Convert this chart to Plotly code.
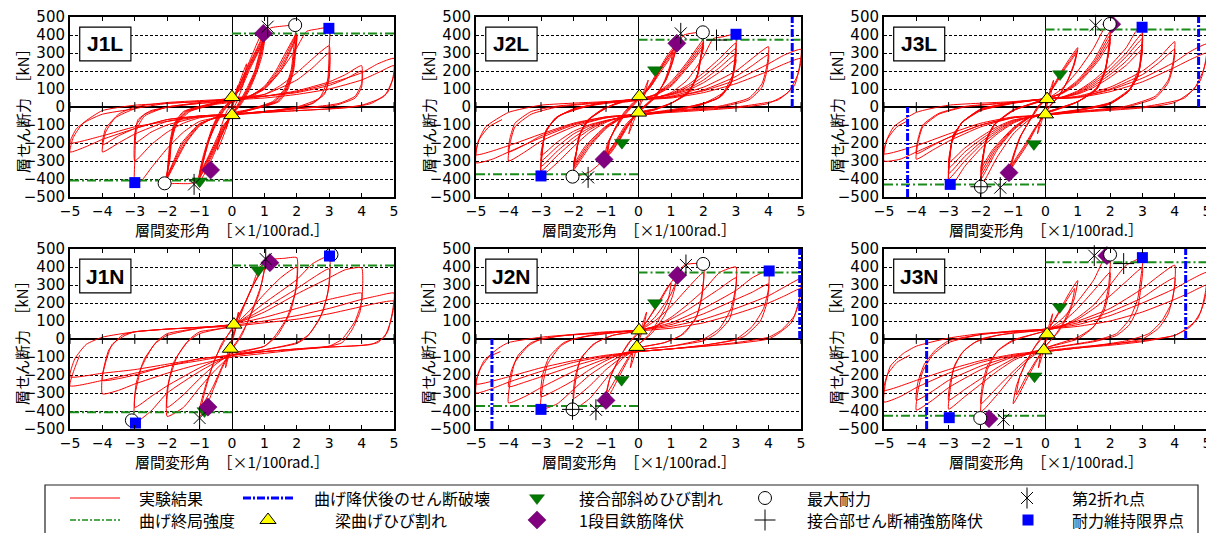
import plotly.graph_objects as go

W, H = 1214, 533          # browser window
OFF = 8                   # default page (body) margin of the written html
FW, FH = W - OFF, H - OFF  # figure size so that it fills the window exactly

X_TICKS = [-5, -4, -3, -2, -1, 0, 1, 2, 3, 4, 5]
Y_TICKS = [-500, -400, -300, -200, -100, 0, 100, 200, 300, 400, 500]
PANEL_NAMES = ["J1L", "J2L", "J3L", "J1N", "J2N", "J3N"]

# ---------------- hysteresis loops (x: 1/100 rad, y: kN) ----------------
J1L_LOOPS = [
    [(0,0),(0.08,60),(0.18,120),(0.1,50),(0,-10),(-0.08,-60),(-0.18,-120),(-0.1,-50),(0,0)],
    [(0,10),(0.2,120),(0.45,240),(0.35,130),(0.15,30),(0,-25),(-0.2,-130),(-0.45,-240),(-0.35,-120),(-0.15,-20),(0,10)],
    [(0,30),(0.2,110),(0.45,210),(0.7,300),(1.0,410),(0.85,300),(0.7,200),(0.45,100),(0.2,20),(0,-35),(-0.2,-110),(-0.45,-210),(-0.7,-300),(-1.05,-405),(-0.9,-300),(-0.75,-200),(-0.5,-100),(-0.25,-20),(0,30)],
    [(0,35),(0.22,110),(0.48,210),(0.72,300),(1.0,395),(0.87,300),(0.72,200),(0.48,100),(0.22,20),(0,-38),(-0.22,-110),(-0.48,-210),(-0.73,-300),(-1.0,-395),(-0.88,-300),(-0.74,-200),(-0.52,-100),(-0.27,-20),(0,35)],
    [(0,40),(0.25,110),(0.5,210),(0.75,300),(1.0,385),(0.88,290),(0.74,200),(0.5,100),(0.25,20),(0,-40),(-0.25,-110),(-0.5,-210),(-0.76,-300),(-1.0,-385),(-0.87,-290),(-0.73,-200),(-0.54,-100),(-0.3,-20),(0,40)],
    [(0,42),(0.27,110),(0.52,210),(0.78,300),(1.0,375),(0.9,290),(0.76,200),(0.52,100),(0.27,20),(0,-42),(-0.27,-110),(-0.53,-210),(-0.78,-300),(-1.0,-375),(-0.89,-290),(-0.75,-200),(-0.56,-100),(-0.32,-20),(0,42)],
    [(0,45),(0.3,110),(0.55,210),(0.8,300),(1.0,365),(0.92,280),(0.78,200),(0.55,100),(0.3,20),(0,-45),(-0.3,-110),(-0.56,-210),(-0.8,-300),(-1.0,-365),(-0.9,-280),(-0.77,-200),(-0.58,-100),(-0.35,-20),(0,45)],
    [(0,30),(0.3,150),(0.6,280),(0.9,400),(1.2,440),(1.6,450),(1.95,452),(1.9,320),(1.82,200),(1.62,100),(1.25,30),(0.5,-15),(0,-35),(-0.3,-150),(-0.6,-280),(-0.95,-400),(-1.3,-425),(-1.7,-425),(-2.05,-422),(-1.92,-300),(-1.87,-200),(-1.72,-100),(-1.3,-25),(-0.5,15),(0,30)],
    [(0,35),(0.5,55),(1.0,115),(1.35,200),(1.65,300),(2.0,410),(1.92,300),(1.84,200),(1.65,100),(1.3,30),(0.5,-15),(0,-38),(-0.5,-55),(-1.0,-105),(-1.42,-200),(-1.72,-300),(-2.0,-395),(-1.93,-300),(-1.88,-200),(-1.74,-100),(-1.35,-25),(-0.5,18),(0,35)],
    [(0,38),(0.5,55),(1.0,110),(1.4,200),(1.7,300),(2.0,405),(1.93,300),(1.86,200),(1.68,100),(1.35,30),(0.5,-18),(0,-40),(-0.5,-58),(-1.0,-100),(-1.45,-200),(-1.75,-300),(-2.0,-390),(-1.94,-290),(-1.89,-200),(-1.76,-100),(-1.4,-25),(-0.5,20),(0,38)],
    [(0,40),(0.5,58),(1.0,105),(1.45,200),(1.75,300),(2.0,395),(1.94,290),(1.88,200),(1.7,100),(1.4,30),(0.5,-20),(0,-42),(-0.5,-60),(-1.0,-95),(-1.5,-200),(-1.78,-300),(-2.0,-385),(-1.95,-290),(-1.9,-200),(-1.78,-100),(-1.45,-25),(-0.5,22),(0,40)],
    [(0,42),(0.5,60),(1.0,100),(1.5,200),(1.78,300),(2.0,385),(1.95,280),(1.9,200),(1.73,100),(1.45,30),(0.5,-20),(0,-45),(-0.5,-62),(-1.0,-92),(-1.55,-200),(-1.8,-300),(-2.0,-380),(-1.96,-280),(-1.92,-200),(-1.8,-100),(-1.5,-25),(-0.5,25),(0,42)],
    [(0,30),(0.5,50),(1.0,100),(1.5,200),(2.0,330),(2.3,420),(2.6,432),(3.0,440),(3.0,330),(2.95,150),(2.7,50),(2.0,0),(1.0,-25),(0,-45),(-1.0,-80),(-1.5,-140),(-2.0,-230),(-2.5,-340),(-2.8,-410),(-3.0,-420),(-3.0,-300),(-2.95,-130),(-2.7,-50),(-2.0,0),(-1.0,20),(0,30)],
    [(0,40),(1.0,70),(1.5,120),(2.0,190),(2.5,270),(3.0,340),(3.0,200),(2.9,90),(2.5,20),(1.5,-15),(0,-40),(-1.0,-60),(-1.5,-90),(-2.0,-140),(-2.5,-210),(-3.0,-300),(-3.0,-160),(-2.9,-70),(-2.5,-20),(-1.5,10),(0,40)],
    [(0,50),(1.0,70),(2.0,150),(2.5,220),(3.0,300),(3.0,160),(2.85,70),(2.4,15),(1.5,-20),(0,-45),(-1.0,-55),(-2.0,-100),(-2.5,-140),(-3.0,-200),(-2.95,-100),(-2.7,-40),(-2.0,0),(-1.0,25),(0,50)],
    [(0,40),(1.0,60),(2.0,90),(3.0,140),(3.5,180),(4.0,230),(4.0,130),(3.8,60),(3.3,20),(2.5,0),(1.0,-25),(0,-40),(-1.0,-50),(-2.0,-80),(-3.0,-150),(-3.5,-200),(-4.0,-250),(-3.9,-140),(-3.6,-60),(-3.0,-10),(-2.0,20),(-1.0,30),(0,40)],
    [(0,45),(1.0,60),(2.0,80),(3.0,120),(3.5,155),(4.0,200),(4.0,110),(3.8,50),(3.2,10),(2.0,-10),(0,-40),(-1.0,-50),(-2.0,-70),(-3.0,-120),(-3.5,-160),(-4.0,-210),(-3.9,-120),(-3.5,-40),(-3.0,0),(-2.0,25),(0,45)],
    [(0,45),(1.0,60),(2.0,85),(3.0,130),(4.0,190),(4.5,240),(5.0,270),(5.0,180),(4.8,80),(4.3,20),(3.5,-5),(2.0,-20),(0,-40),(-1.0,-50),(-2.0,-70),(-3.0,-120),(-4.0,-180),(-4.5,-220),(-5.0,-250),(-4.9,-170),(-4.6,-90),(-4.0,-20),(-3.0,10),(-2.0,20),(0,40)],
    [(0,40),(1.0,50),(2.0,70),(3.0,100),(4.0,150),(4.5,190),(5.0,230),(4.95,150),(4.7,60),(4.0,10),(3.0,-10),(1.0,-30),(0,-40),(-1.0,-55),(-2.0,-80),(-3.0,-110),(-4.0,-160),(-5.0,-200),(-4.8,-120),(-4.5,-80),(-4.0,-40),(-3.0,-10)],
]

J2L_LOOPS = [
    [(0,0),(0.15,80),(0.3,150),(0.18,60),(0,-10),(-0.15,-80),(-0.3,-150),(-0.18,-60),(0,0)],
    [(0,40),(0.3,110),(0.6,200),(0.9,290),(1.2,355),(1.05,250),(0.85,150),(0.5,60),(0.2,10),(0,-25),(-0.3,-100),(-0.6,-190),(-0.85,-255),(-1.05,-290),(-0.95,-200),(-0.7,-120),(-0.4,-40),(-0.1,20),(0,40)],
    [(0,42),(0.32,110),(0.63,200),(0.93,285),(1.15,335),(1.03,240),(0.84,150),(0.52,60),(0.22,10),(0,-27),(-0.32,-100),(-0.62,-190),(-0.86,-250),(-1.0,-280),(-0.92,-195),(-0.7,-115),(-0.42,-38),(-0.12,22),(0,42)],
    [(0,44),(0.34,110),(0.66,200),(0.96,280),(1.1,320),(1.0,235),(0.82,148),(0.54,60),(0.24,10),(0,-29),(-0.34,-100),(-0.64,-188),(-0.88,-245),(-0.98,-272),(-0.9,-190),(-0.7,-112),(-0.44,-36),(-0.14,24),(0,44)],
    [(0,46),(0.36,110),(0.7,200),(0.98,275),(1.05,305),(0.97,230),(0.8,146),(0.56,60),(0.26,10),(0,-31),(-0.36,-100),(-0.66,-186),(-0.9,-240),(-0.95,-262),(-0.88,-185),(-0.7,-110),(-0.46,-34),(-0.16,26),(0,46)],
    [(0,40),(0.4,120),(0.8,250),(1.2,350),(1.4,400),(2.0,412),(1.93,300),(1.85,200),(1.6,100),(1.1,30),(0.5,-10),(0,-30),(-0.4,-100),(-0.8,-220),(-1.05,-290),(-1.5,-360),(-2.0,-385),(-1.93,-280),(-1.85,-180),(-1.6,-80),(-1.1,-10),(-0.5,25),(0,40)],
    [(0,40),(0.5,70),(1.0,140),(1.5,250),(2.0,375),(1.92,280),(1.83,180),(1.55,80),(1.0,20),(0.5,-12),(0,-32),(-0.5,-60),(-1.0,-120),(-1.5,-220),(-2.0,-350),(-1.92,-260),(-1.83,-160),(-1.55,-70),(-1.0,-5),(-0.5,28),(0,40)],
    [(0,42),(0.5,68),(1.0,130),(1.55,250),(2.0,360),(1.91,270),(1.81,175),(1.52,78),(0.98,18),(0.5,-14),(0,-34),(-0.5,-58),(-1.0,-115),(-1.55,-220),(-2.0,-340),(-1.91,-250),(-1.81,-155),(-1.52,-68),(-0.98,-3),(-0.5,30),(0,42)],
    [(0,44),(0.5,66),(1.0,122),(1.6,250),(2.0,345),(1.9,262),(1.8,170),(1.5,76),(0.95,16),(0.5,-15),(0,-36),(-0.5,-56),(-1.0,-110),(-1.6,-220),(-2.0,-330),(-1.9,-240),(-1.8,-150),(-1.5,-66),(-0.95,-1),(-0.5,32),(0,44)],
    [(0,45),(0.5,64),(1.0,115),(1.65,250),(2.0,330),(1.89,255),(1.79,165),(1.48,74),(0.93,14),(0.5,-16),(0,-38),(-0.5,-55),(-1.0,-105),(-1.65,-220),(-2.0,-318),(-1.89,-232),(-1.79,-145),(-1.48,-64),(-0.93,1),(-0.5,34),(0,45)],
    [(0,40),(0.5,50),(1.0,80),(1.5,150),(2.0,280),(2.3,380),(2.6,390),(3.0,404),(2.97,290),(2.9,180),(2.6,80),(2.0,20),(1.0,-15),(0,-40),(-0.5,-55),(-1.0,-85),(-1.5,-140),(-2.0,-220),(-2.5,-310),(-3.0,-383),(-2.97,-270),(-2.9,-160),(-2.6,-70),(-2.0,-10),(-1.0,20),(0,40)],
    [(0,40),(0.5,50),(1.0,75),(1.5,120),(2.0,190),(2.5,270),(3.0,355),(2.96,250),(2.88,150),(2.55,60),(1.9,10),(1.0,-20),(0,-42),(-0.5,-55),(-1.0,-80),(-1.5,-125),(-2.0,-190),(-2.5,-270),(-3.0,-355),(-2.96,-250),(-2.88,-150),(-2.55,-60),(-1.9,-5),(-1.0,22),(0,40)],
    [(0,42),(0.5,52),(1.0,72),(1.5,110),(2.0,170),(2.5,245),(3.0,325),(2.95,230),(2.86,140),(2.5,55),(1.8,8),(1.0,-22),(0,-44),(-0.5,-57),(-1.0,-78),(-1.5,-115),(-2.0,-170),(-2.5,-245),(-3.0,-330),(-2.95,-230),(-2.86,-140),(-2.5,-55),(-1.8,-3),(-1.0,24),(0,42)],
    [(0,44),(0.5,53),(1.0,70),(1.5,100),(2.0,150),(2.5,220),(3.0,295),(2.94,210),(2.84,130),(2.45,50),(1.7,5),(1.0,-24),(0,-46),(-0.5,-58),(-1.0,-76),(-1.5,-105),(-2.0,-150),(-2.5,-220),(-3.0,-300),(-2.94,-210),(-2.84,-130),(-2.45,-50),(-1.7,0),(-1.0,26),(0,44)],
    [(0,45),(0.5,54),(1.0,68),(1.5,92),(2.0,135),(2.5,195),(3.0,265),(2.93,190),(2.82,120),(2.4,45),(1.6,3),(1.0,-25),(0,-48),(-0.5,-60),(-1.0,-75),(-1.5,-98),(-2.0,-135),(-2.5,-195),(-3.0,-270),(-2.93,-190),(-2.82,-120),(-2.4,-45),(-1.6,2),(-1.0,28),(0,45)],
    [(0,40),(1.0,60),(2.0,110),(3.0,200),(3.5,270),(4.0,335),(3.95,230),(3.8,130),(3.4,50),(2.5,5),(1.0,-20),(0,-40),(-1.0,-60),(-2.0,-110),(-3.0,-190),(-3.5,-250),(-4.0,-300),(-3.95,-200),(-3.8,-110),(-3.3,-40),(-2.5,0),(-1.0,25),(0,40)],
    [(0,42),(1.0,55),(2.0,95),(3.0,170),(3.5,230),(4.0,290),(3.95,200),(3.8,110),(3.4,40),(2.5,0),(1.0,-25),(0,-42),(-1.0,-55),(-2.0,-95),(-3.0,-160),(-3.5,-210),(-4.0,-250),(-3.95,-170),(-3.8,-90),(-3.3,-25),(-2.5,5),(-1.0,28),(0,42)],
    [(0,40),(1.0,55),(2.0,90),(3.0,150),(4.0,240),(4.5,290),(5.0,320),(4.95,220),(4.8,120),(4.3,40),(3.0,0),(1.0,-25),(0,-40),(-1.0,-60),(-2.0,-100),(-3.0,-170),(-4.0,-250),(-4.5,-290),(-5.0,-310),(-4.95,-200),(-4.7,-110),(-4.0,-30),(-3.0,10),(-1.0,30),(0,40)],
    [(0,40),(1.0,50),(2.0,80),(3.0,130),(4.0,200),(4.5,240),(5.0,270),(4.9,180),(4.6,80),(4.0,20),(3.0,-5),(1.0,-30),(0,-40),(-1.0,-55),(-2.0,-90),(-3.0,-150),(-4.0,-215),(-5.0,-265),(-4.9,-180),(-4.6,-110),(-4.2,-70)],
]

J3L_LOOPS = [
    [(0,0),(0.12,80),(0.25,150),(0.15,60),(0,-10),(-0.12,-80),(-0.25,-150),(-0.15,-60),(0,0)],
    [(0,40),(0.25,120),(0.5,200),(0.75,270),(1.0,330),(0.9,240),(0.7,150),(0.4,60),(0.15,10),(0,-30),(-0.3,-120),(-0.6,-220),(-0.9,-300),(-1.15,-365),(-1.0,-270),(-0.8,-170),(-0.5,-80),(-0.2,0),(0,40)],
    [(0,42),(0.27,120),(0.53,200),(0.78,265),(0.98,315),(0.88,235),(0.69,148),(0.41,60),(0.16,10),(0,-32),(-0.32,-120),(-0.62,-215),(-0.9,-290),(-1.1,-345),(-0.97,-260),(-0.78,-165),(-0.5,-78),(-0.22,2),(0,42)],
    [(0,44),(0.29,120),(0.56,200),(0.8,260),(0.96,300),(0.86,230),(0.68,146),(0.42,60),(0.17,10),(0,-34),(-0.34,-120),(-0.64,-210),(-0.9,-280),(-1.05,-325),(-0.94,-250),(-0.76,-160),(-0.5,-76),(-0.24,4),(0,44)],
    [(0,40),(0.5,100),(1.0,200),(1.5,330),(1.8,430),(2.0,458),(1.95,330),(1.86,220),(1.6,110),(1.0,30),(0,-30),(-0.5,-70),(-1.0,-150),(-1.5,-280),(-1.8,-380),(-2.0,-440),(-1.95,-320),(-1.86,-210),(-1.6,-100),(-1.0,-15),(0,40)],
    [(0,40),(0.5,80),(1.0,150),(1.5,260),(2.0,420),(1.95,300),(1.85,200),(1.6,100),(1.0,30),(0,-30),(-0.5,-60),(-1.0,-130),(-1.5,-240),(-2.0,-400),(-1.95,-290),(-1.85,-190),(-1.6,-100),(-1.0,-20),(0,40)],
    [(0,42),(0.5,78),(1.0,142),(1.55,260),(2.0,400),(1.94,290),(1.84,195),(1.58,98),(0.98,28),(0,-32),(-0.5,-58),(-1.0,-125),(-1.55,-240),(-2.0,-380),(-1.94,-280),(-1.84,-185),(-1.58,-96),(-0.98,-18),(0,42)],
    [(0,44),(0.5,76),(1.0,135),(1.6,260),(2.0,380),(1.93,280),(1.83,190),(1.56,96),(0.96,26),(0,-34),(-0.5,-56),(-1.0,-120),(-1.6,-240),(-2.0,-360),(-1.93,-270),(-1.83,-180),(-1.56,-94),(-0.96,-16),(0,44)],
    [(0,46),(0.5,74),(1.0,128),(1.65,260),(2.0,360),(1.92,270),(1.82,185),(1.54,94),(0.94,24),(0,-36),(-0.5,-54),(-1.0,-115),(-1.65,-240),(-2.0,-340),(-1.92,-260),(-1.82,-175),(-1.54,-92),(-0.94,-14),(0,46)],
    [(0,46),(0.5,55),(1.0,90),(1.5,150),(2.0,230),(2.5,330),(2.8,420),(3.0,443),(2.97,330),(2.9,220),(2.6,100),(2.0,25),(1.0,-15),(0,-40),(-0.5,-55),(-1.0,-90),(-1.5,-150),(-2.0,-230),(-2.5,-330),(-2.8,-410),(-3.0,-430),(-2.97,-310),(-2.9,-200),(-2.6,-90),(-2.0,-20),(-1.0,20),(0,46)],
    [(0,44),(0.5,52),(1.0,85),(1.5,140),(2.0,210),(2.5,300),(3.0,410),(2.97,300),(2.9,200),(2.6,92),(2.0,22),(1.0,-17),(0,-42),(-0.5,-55),(-1.0,-85),(-1.5,-140),(-2.0,-210),(-2.5,-300),(-3.0,-400),(-2.97,-290),(-2.9,-190),(-2.6,-88),(-2.0,-18),(-1.0,22),(0,44)],
    [(0,44),(0.5,52),(1.0,80),(1.5,130),(2.0,195),(2.5,280),(3.0,380),(2.96,280),(2.88,185),(2.58,88),(2.0,20),(1.0,-18),(0,-43),(-0.5,-56),(-1.0,-80),(-1.5,-130),(-2.0,-195),(-2.5,-275),(-3.0,-370),(-2.96,-270),(-2.88,-175),(-2.58,-84),(-2.0,-15),(-1.0,23),(0,44)],
    [(0,45),(0.5,53),(1.0,76),(1.5,120),(2.0,180),(2.5,255),(3.0,350),(2.95,260),(2.86,170),(2.55,84),(2.0,18),(1.0,-19),(0,-44),(-0.5,-57),(-1.0,-76),(-1.5,-120),(-2.0,-180),(-2.5,-250),(-3.0,-340),(-2.95,-250),(-2.86,-160),(-2.55,-80),(-2.0,-12),(-1.0,24),(0,45)],
    [(0,46),(0.5,54),(1.0,72),(1.5,110),(2.0,165),(2.5,232),(3.0,320),(2.94,240),(2.84,160),(2.52,80),(2.0,16),(1.0,-20),(0,-45),(-0.5,-58),(-1.0,-72),(-1.5,-110),(-2.0,-165),(-2.5,-228),(-3.0,-310),(-2.94,-230),(-2.84,-150),(-2.52,-76),(-2.0,-10),(-1.0,25),(0,46)],
    [(0,45),(1.0,60),(2.0,110),(3.0,200),(3.5,270),(4.0,363),(3.95,250),(3.8,150),(3.4,60),(2.5,5),(1.0,-25),(0,-45),(-1.0,-60),(-2.0,-110),(-3.0,-190),(-3.5,-240),(-4.0,-290),(-3.95,-200),(-3.8,-110),(-3.3,-40),(-2.5,0),(-1.0,25),(0,45)],
    [(0,45),(1.0,55),(2.0,100),(3.0,180),(3.5,245),(4.0,320),(3.95,225),(3.8,135),(3.4,50),(2.5,0),(1.0,-28),(0,-45),(-1.0,-58),(-2.0,-100),(-3.0,-170),(-3.5,-215),(-4.0,-260),(-3.95,-180),(-3.8,-100),(-3.3,-35),(-2.5,3),(-1.0,27),(0,45)],
    [(0,45),(1.0,55),(2.0,95),(3.0,160),(4.0,250),(4.5,310),(5.0,350),(4.95,250),(4.8,150),(4.3,50),(3.0,0),(1.0,-25),(0,-45),(-1.0,-60),(-2.0,-100),(-3.0,-170),(-4.0,-250),(-4.5,-290),(-5.0,-300),(-4.95,-200),(-4.7,-110),(-4.0,-30),(-3.0,10),(-1.0,30),(0,45)],
    [(0,45),(1.0,52),(2.0,85),(3.0,140),(4.0,220),(4.5,265),(5.0,300),(4.9,210),(4.6,100),(4.0,25),(3.0,-5),(1.0,-30),(0,-45),(-1.0,-55),(-2.0,-90),(-3.0,-150),(-4.0,-215),(-5.0,-260),(-4.9,-180),(-4.6,-110),(-4.3,-80)],
]

J1N_LOOPS = [
    [(0,0),(0.1,80),(0.2,150),(0.12,60),(0,-20),(-0.1,-90),(-0.2,-160),(-0.12,-60),(0,0)],
    [(0,0),(0.3,150),(0.6,280),(0.8,380),(1.05,440),(0.9,300),(0.6,150),(0.3,20),(0,-60),(-0.3,-160),(-0.6,-290),(-0.85,-400),(-1.0,-430),(-0.85,-300),(-0.6,-150),(-0.3,-20),(0,50)],
    [(0,50),(0.3,160),(0.6,280),(1.0,400),(0.85,260),(0.5,100),(0.2,0),(0,-50),(-0.3,-150),(-0.6,-270),(-1.0,-390),(-0.8,-250),(-0.5,-100),(-0.2,0),(0,60)],
    [(0,60),(0.4,200),(0.8,350),(1.2,440),(1.6,448),(2.0,452),(2.0,300),(1.8,150),(1.4,20),(1.0,-40),(0,-90),(-0.5,-170),(-1.0,-270),(-1.5,-380),(-2.0,-430),(-2.0,-280),(-1.8,-130),(-1.4,-20),(-1.0,30),(0,70)],
    [(0,70),(0.5,150),(1.0,250),(1.5,340),(2.0,400),(1.95,260),(1.7,120),(1.3,10),(1.0,-40),(0,-80),(-0.5,-140),(-1.0,-220),(-1.5,-310),(-2.0,-380),(-1.95,-240),(-1.7,-100),(-1.3,0),(-1.0,40),(0,70)],
    [(0,70),(0.5,130),(1.0,200),(2.0,330),(2.5,420),(3.0,460),(3.0,300),(2.8,150),(2.4,30),(2.0,-20),(1.0,-60),(0,-90),(-0.5,-130),(-1.0,-180),(-2.0,-300),(-2.5,-400),(-3.0,-465),(-3.0,-320),(-2.8,-160),(-2.4,-30),(-2.0,20),(-1.0,60),(0,80)],
    [(0,80),(0.5,120),(1.0,170),(2.0,280),(2.5,340),(3.0,390),(2.95,250),(2.7,110),(2.3,10),(2.0,-25),(1.0,-60),(0,-90),(-0.5,-120),(-1.0,-160),(-2.0,-260),(-2.5,-320),(-3.0,-380),(-2.95,-240),(-2.7,-110),(-2.3,-10),(-2.0,30),(-1.0,60),(0,80)],
    [(0,80),(1.0,150),(2.0,250),(3.0,340),(3.5,385),(4.0,395),(4.0,210),(3.8,100),(3.4,0),(3.0,-40),(2.0,-60),(1.0,-80),(0,-100),(-1.0,-140),(-2.0,-190),(-3.0,-250),(-3.5,-285),(-4.0,-305),(-4.0,-200),(-3.8,-60),(-3.4,20),(-3.0,40),(-2.0,55),(-1.0,65),(0,80)],
    [(0,80),(1.0,120),(2.0,170),(3.0,220),(3.5,240),(4.0,255),(3.95,150),(3.7,50),(3.4,-20),(3.0,-40),(2.0,-55),(1.0,-70),(0,-90),(-1.0,-120),(-2.0,-150),(-3.0,-200),(-3.5,-220),(-4.0,-230),(-3.9,-130),(-3.7,-30),(-3.3,20),(-3.0,40),(-2.0,55),(0,75)],
    [(0,75),(1.0,100),(2.0,130),(3.0,170),(4.0,220),(4.5,240),(5.0,255),(4.95,150),(4.8,40),(4.5,-20),(4.0,-35),(3.0,-45),(2.0,-55),(1.0,-70),(0,-90),(-1.0,-110),(-2.0,-140),(-3.0,-170),(-4.0,-190),(-5.0,-210),(-4.85,-110),(-4.5,-30),(-4.0,10),(-3.0,40),(-2.0,55),(0,70)],
    [(0,70),(1.0,90),(2.0,110),(3.0,140),(4.0,180),(4.5,200),(5.0,210),(4.9,100),(4.7,10),(4.3,-30),(3.0,-45),(1.0,-70),(0,-90),(-1.0,-110),(-2.0,-150),(-3.0,-190),(-4.0,-230),(-5.0,-260),(-4.85,-160),(-4.7,-90)],
]

J2N_LOOPS = [
    [(0,0),(0.12,80),(0.25,150),(0.15,60),(0,-15),(-0.12,-90),(-0.25,-160),(-0.15,-60),(0,0)],
    [(0,30),(0.3,110),(0.6,200),(0.9,290),(1.2,355),(1.05,240),(0.8,130),(0.4,30),(0,-30),(-0.3,-110),(-0.6,-210),(-0.8,-280),(-1.0,-340),(-0.9,-230),(-0.6,-110),(-0.3,-20),(0,30)],
    [(0,40),(0.3,110),(0.6,190),(1.0,310),(0.9,210),(0.6,100),(0.3,20),(0,-30),(-0.3,-100),(-0.6,-190),(-1.0,-310),(-0.85,-200),(-0.5,-80),(-0.2,0),(0,40)],
    [(0,40),(0.5,120),(1.0,250),(1.4,410),(2.0,415),(1.95,250),(1.8,130),(1.4,30),(0.8,-20),(0,-50),(-0.5,-110),(-1.0,-220),(-1.5,-330),(-2.0,-390),(-1.95,-250),(-1.8,-120),(-1.4,-30),(-0.8,20),(0,45)],
    [(0,45),(0.5,100),(1.0,180),(1.5,280),(2.0,370),(1.95,230),(1.75,110),(1.3,20),(0.8,-20),(0,-50),(-0.5,-100),(-1.0,-170),(-1.5,-260),(-2.0,-330),(-1.95,-210),(-1.75,-100),(-1.3,-20),(-0.8,20),(0,45)],
    [(0,45),(0.5,70),(1.0,120),(1.5,190),(2.0,270),(2.5,370),(3.0,400),(3.0,300),(2.85,170),(2.5,60),(2.0,0),(1.0,-40),(0,-60),(-0.5,-90),(-1.0,-140),(-1.5,-200),(-2.0,-280),(-2.5,-360),(-3.0,-390),(-2.95,-260),(-2.8,-140),(-2.4,-40),(-2.0,0),(-1.0,30),(0,50)],
    [(0,50),(0.5,70),(1.0,110),(1.5,160),(2.0,220),(2.5,280),(3.0,340),(2.95,220),(2.8,110),(2.4,30),(2.0,-10),(1.0,-40),(0,-60),(-0.5,-80),(-1.0,-120),(-1.5,-170),(-2.0,-230),(-2.5,-280),(-3.0,-320),(-2.95,-200),(-2.75,-100),(-2.3,-20),(-1.5,20),(0,50)],
    [(0,50),(1.0,90),(2.0,170),(3.0,270),(3.5,340),(4.0,380),(4.0,280),(3.85,170),(3.5,70),(3.0,0),(2.0,-35),(1.0,-55),(0,-70),(-1.0,-110),(-2.0,-180),(-3.0,-270),(-3.5,-320),(-4.0,-355),(-3.95,-240),(-3.8,-130),(-3.4,-40),(-3.0,0),(-2.0,25),(-1.0,40),(0,50)],
    [(0,50),(1.0,80),(2.0,140),(3.0,220),(3.5,260),(4.0,305),(3.95,200),(3.75,100),(3.3,20),(3.0,-5),(2.0,-35),(1.0,-55),(0,-70),(-1.0,-100),(-2.0,-150),(-3.0,-210),(-3.5,-240),(-4.0,-265),(-3.9,-170),(-3.7,-90),(-3.3,-20),(-2.5,15),(-1.0,35),(0,50)],
    [(0,50),(1.0,70),(2.0,110),(3.0,170),(4.0,240),(4.5,290),(5.0,335),(4.95,230),(4.8,130),(4.4,50),(4.0,10),(3.0,-20),(2.0,-40),(1.0,-55),(0,-70),(-1.0,-95),(-2.0,-130),(-3.0,-180),(-4.0,-240),(-4.5,-275),(-5.0,-300),(-4.95,-200),(-4.75,-120),(-4.3,-50),(-4.0,-20),(-3.0,10),(-2.0,25),(0,45)],
    [(0,45),(1.0,60),(2.0,90),(3.0,140),(4.0,200),(4.5,240),(5.0,280),(4.9,180),(4.7,90),(4.3,30),(4.0,0),(3.0,-25),(1.0,-55),(0,-70),(-1.0,-90),(-2.0,-120),(-3.0,-160),(-4.0,-210),(-5.0,-250),(-4.85,-160),(-4.6,-100),(-4.25,-70)],
]

J3N_LOOPS = [
    [(0,0),(0.1,70),(0.22,140),(0.12,50),(0,-20),(-0.1,-90),(-0.22,-160),(-0.12,-60),(0,0)],
    [(0,30),(0.25,100),(0.5,180),(0.75,260),(1.0,325),(0.9,230),(0.7,130),(0.4,40),(0,-40),(-0.3,-130),(-0.6,-230),(-0.8,-300),(-1.0,-360),(-0.9,-260),(-0.65,-150),(-0.35,-50),(0,30)],
    [(0,35),(0.3,110),(0.6,200),(0.9,280),(0.8,190),(0.55,90),(0.25,10),(0,-40),(-0.3,-120),(-0.6,-210),(-0.9,-310),(-0.8,-210),(-0.55,-110),(-0.25,-20),(0,35)],
    [(0,40),(0.5,110),(1.0,210),(1.5,330),(1.8,440),(2.0,465),(1.95,290),(1.8,170),(1.5,70),(1.0,10),(0,-50),(-0.5,-110),(-1.0,-200),(-1.5,-310),(-2.0,-405),(-1.95,-290),(-1.8,-170),(-1.5,-70),(-1.0,-10),(0,45)],
    [(0,45),(0.5,90),(1.0,170),(1.5,270),(2.0,370),(1.95,250),(1.8,150),(1.45,60),(1.0,0),(0,-50),(-0.5,-100),(-1.0,-180),(-1.5,-270),(-2.0,-360),(-1.95,-250),(-1.8,-150),(-1.45,-60),(-1.0,-5),(0,45)],
    [(0,45),(0.5,70),(1.0,120),(1.5,190),(2.0,300),(2.5,410),(3.0,450),(2.95,340),(2.85,220),(2.6,110),(2.2,30),(1.5,-10),(0,-55),(-0.5,-80),(-1.0,-120),(-1.5,-180),(-2.0,-250),(-2.5,-320),(-3.0,-390),(-2.95,-280),(-2.85,-170),(-2.6,-80),(-2.2,-20),(-1.5,20),(0,50)],
    [(0,50),(0.5,70),(1.0,110),(1.5,170),(2.0,240),(2.5,320),(3.0,396),(2.95,280),(2.85,170),(2.6,80),(2.2,20),(1.5,-15),(0,-55),(-0.5,-75),(-1.0,-110),(-1.5,-160),(-2.0,-220),(-2.5,-280),(-3.0,-340),(-2.95,-240),(-2.8,-140),(-2.5,-60),(-2.0,0),(-1.0,35),(0,50)],
    [(0,55),(1.0,100),(2.0,170),(3.0,280),(3.5,350),(4.0,410),(4.0,300),(3.9,200),(3.6,100),(3.2,30),(2.5,-10),(1.0,-50),(0,-70),(-1.0,-100),(-2.0,-170),(-3.0,-270),(-3.5,-340),(-4.0,-395),(-3.95,-290),(-3.8,-180),(-3.5,-90),(-3.0,-20),(-2.0,25),(-1.0,45),(0,55)],
    [(0,55),(1.0,90),(2.0,150),(3.0,230),(3.5,290),(4.0,340),(3.95,240),(3.8,140),(3.5,60),(3.0,0),(2.0,-30),(1.0,-50),(0,-70),(-1.0,-95),(-2.0,-150),(-3.0,-230),(-3.5,-290),(-4.0,-340),(-3.95,-240),(-3.75,-140),(-3.4,-60),(-3.0,-10),(-2.0,25),(0,55)],
    [(0,55),(1.0,80),(2.0,130),(3.0,200),(4.0,280),(4.5,330),(5.0,370),(4.95,260),(4.8,150),(4.5,70),(4.0,20),(3.0,-15),(2.0,-35),(1.0,-50),(0,-70),(-1.0,-90),(-2.0,-130),(-3.0,-190),(-4.0,-270),(-4.5,-320),(-5.0,-350),(-4.95,-240),(-4.8,-150),(-4.4,-80),(-4.0,-40),(-3.0,5),(-2.0,30),(0,55)],
    [(0,55),(1.0,70),(2.0,100),(3.0,150),(4.0,220),(4.5,260),(5.0,300),(4.9,200),(4.7,110),(4.3,50),(4.0,20),(3.0,-10),(1.0,-45),(0,-65),(-1.0,-85),(-2.0,-120),(-3.0,-170),(-4.0,-230),(-5.0,-285),(-4.9,-200),(-4.6,-130),(-4.2,-90)],
]

LOOPS = {"J1L": J1L_LOOPS, "J2L": J2L_LOOPS, "J3L": J3L_LOOPS,
         "J1N": J1N_LOOPS, "J2N": J2N_LOOPS, "J3N": J3N_LOOPS}

# ---------------- event points ----------------
BEAM_CRACK = {"J1L": [(0.0, 55), (0.0, -45)], "J2L": [(0.03, 60), (0.0, -31)],
              "J3L": [(0.05, 44), (0.0, -41)], "J1N": [(0.06, 80), (-0.05, -54)],
              "J2N": [(0.02, 48), (-0.05, -44)], "J3N": [(0.05, 26), (-0.05, -63)]}
JOINT_CRACK = {"J1L": [(-1.0, -412)], "J2L": [(0.51, 205), (-0.51, -198)],
               "J3L": [(0.45, 183), (-0.36, -205)], "J1N": [(0.81, 383), (-0.85, -400)],
               "J2N": [(0.51, 200), (-0.52, -226)], "J3N": [(0.44, 178), (-0.34, -207)]}
REBAR_YIELD = {"J1L": [(0.97, 409), (-0.66, -350)], "J2L": [(1.18, 354), (-1.06, -291)],
               "J3L": [(2.05, 460), (-1.13, -365)], "J1N": [(1.17, 424), (-0.74, -378)],
               "J2N": [(1.2, 354), (-1.0, -341)], "J3N": [(1.9, 463), (-1.75, -443)]}
MAX_STRENGTH = {"J1L": [(1.95, 455), (-2.08, -424)], "J2L": [(1.98, 415), (-2.03, -387)],
                "J3L": [(1.99, 461), (-2.0, -443)], "J1N": [(3.07, 469), (-3.09, -452)],
                "J2N": [(1.99, 417), (-2.03, -391)], "J3N": [(2.0, 469), (-2.02, -439)]}
SECOND_BREAK = {"J1L": [(1.1, 446), (-1.17, -430)], "J2L": [(1.3, 409), (-1.55, -391)],
                "J3L": [(1.55, 454), (-1.4, -448)], "J1N": [(1.04, 444), (-1.0, -439)],
                "J2N": [(1.46, 411), (-1.31, -393)], "J3N": [(1.51, 463), (-1.3, -448)]}
SHEAR_REBAR_YIELD = {"J1L": [], "J2L": [(2.4, 372)], "J3L": [(-2.0, -443)],
                     "J1N": [], "J2N": [(-2.03, -391)], "J3N": [(2.42, 419)]}
LIMIT_POINT = {"J1L": [(2.99, 437), (-3.0, -420)], "J2L": [(3.0, 404), (-3.0, -383)],
               "J3L": [(2.99, 443), (-2.95, -430)], "J1N": [(3.01, 461), (-2.98, -467)],
               "J2N": [(4.02, 378), (-3.0, -391)], "J3N": [(3.0, 452), (-2.98, -437)]}
FLEX_STRENGTH = {"J1L": (408, -408), "J2L": (374, -374), "J3L": (430, -430),
                 "J1N": (409, -407), "J2N": (370, -372), "J3N": (426, -426)}
SHEAR_FAIL_POS = {"J1L": None, "J2L": 4.73, "J3L": 4.74, "J1N": None, "J2N": 4.96, "J3N": 4.34}
SHEAR_FAIL_NEG = {"J1L": None, "J2L": None, "J3L": -4.27, "J1N": None, "J2N": -4.51, "J3N": -3.68}

LEGEND_TEXT = ["実験結果", "曲げ降伏後のせん断破壊", "接合部斜めひび割れ", "最大耐力", "第2折れ点",
               "曲げ終局強度", "梁曲げひび割れ", "1段目鉄筋降伏", "接合部せん断補強筋降伏", "耐力維持限界点"]

# ---------------- styles ----------------
RED = "#ff0000"
GREEN_LINE = "#1a8c1a"
BLUE = "#0000ff"
JP_FONT = "Noto Sans CJK JP"
NUM_FONT = "DejaVu Sans"

MARKER_STYLES = [
    (BEAM_CRACK, dict(symbol="triangle-up", size=14, color="#ffff00", line=dict(color="black", width=1))),
    (JOINT_CRACK, dict(symbol="triangle-down", size=13, color="#007a00", line=dict(color="#005500", width=0.5))),
    (REBAR_YIELD, dict(symbol="diamond", size=14, color="#800080", line=dict(color="#5a005a", width=0.5))),
    (MAX_STRENGTH, dict(symbol="circle", size=13, color="white", line=dict(color="black", width=1))),
    (SHEAR_REBAR_YIELD, dict(symbol="cross-thin-open", size=15, color="black", line=dict(color="black", width=1))),
    (SECOND_BREAK, dict(symbol="x-thin-open", size=12, color="black", line=dict(color="black", width=1))),
    (SECOND_BREAK, dict(symbol="line-ns-open", size=15, color="black", line=dict(color="black", width=1))),
    (LIMIT_POINT, dict(symbol="square", size=11, color=BLUE, line=dict(color=BLUE, width=0))),
]

# plot-area edges in window pixels (measured on the reference)
COLS_PX = [(70, 394), (476, 801), (884, 1207)]
ROWS_PX = [(17, 197), (249, 429)]


def px_x(p):
    return (p - OFF) / FW


def px_y(p):
    return 1 - (p - OFF) / FH


def flatten(loops):
    xs, ys = [], []
    for loop in loops:
        for x, y in loop:
            xs.append(x)
            ys.append(y)
        xs.append(None)
        ys.append(None)
    return xs, ys


fig = go.Figure()
layout = dict(width=FW, height=FH, margin=dict(l=0, r=0, t=0, b=0, autoexpand=False),
              paper_bgcolor="white", plot_bgcolor="rgba(0,0,0,0)",
              showlegend=False, shapes=[], annotations=[])

for i, name in enumerate(PANEL_NAMES):
    r, c = divmod(i, 3)
    sfx = "" if i == 0 else str(i + 1)
    xa, ya = "x" + sfx, "y" + sfx
    l, rr = COLS_PX[c]
    t, b = ROWS_PX[r]
    xdom = [px_x(l), px_x(rr)]
    ydom = [px_y(b), px_y(t)]
    layout["xaxis" + sfx] = dict(
        domain=xdom, range=[-5, 5], anchor=ya, tickvals=X_TICKS, automargin=False,
        ticks="inside", ticklen=4, tickcolor="black", showline=True, linecolor="black",
        linewidth=2, mirror="ticks", showgrid=False, zeroline=True, zerolinecolor="black",
        zerolinewidth=1, tickfont=dict(family=NUM_FONT, size=14, color="black"), fixedrange=True)
    layout["yaxis" + sfx] = dict(
        domain=ydom, range=[-500, 500], anchor=xa, tickvals=Y_TICKS, automargin=False,
        ticks="", showline=True, linecolor="black", linewidth=2, mirror=True,
        showgrid=True, gridcolor="black", gridwidth=1, griddash="3px,2px",
        zeroline=True, zerolinecolor="black", zerolinewidth=1.5,
        tickfont=dict(family=NUM_FONT, size=15, color="black"), fixedrange=True)

    # hysteresis loops
    lx, ly = flatten(LOOPS[name])
    fig.add_trace(go.Scatter(x=lx, y=ly, mode="lines", xaxis=xa, yaxis=ya,
                             line=dict(color=RED, width=1, shape="spline", smoothing=0.5),
                             hoverinfo="skip"))
    # tick marks along y = 0
    fig.add_trace(go.Scatter(x=X_TICKS, y=[0] * len(X_TICKS), mode="markers", xaxis=xa, yaxis=ya,
                             marker=dict(symbol="line-ns-open", size=7, color="black",
                                         line=dict(color="black", width=1)),
                             hoverinfo="skip"))
    # flexural strength
    pos, neg = FLEX_STRENGTH[name]
    fig.add_trace(go.Scatter(x=[0, 5, None, -5, 0], y=[pos, pos, None, neg, neg], mode="lines",
                             xaxis=xa, yaxis=ya,
                             line=dict(color=GREEN_LINE, width=2, dash="9px,3px,2px,3px"),
                             hoverinfo="skip"))
    # shear failure after flexural yield
    vx, vy = [], []
    if SHEAR_FAIL_POS[name] is not None:
        vx += [SHEAR_FAIL_POS[name], SHEAR_FAIL_POS[name], None]
        vy += [0, 500, None]
    if SHEAR_FAIL_NEG[name] is not None:
        vx += [SHEAR_FAIL_NEG[name], SHEAR_FAIL_NEG[name], None]
        vy += [-500, 0, None]
    if vx:
        fig.add_trace(go.Scatter(x=vx, y=vy, mode="lines", xaxis=xa, yaxis=ya,
                                 line=dict(color=BLUE, width=3, dash="8px,2px,2px,2px"),
                                 hoverinfo="skip"))
    # event markers
    for data, mstyle in MARKER_STYLES:
        pts = data[name]
        if not pts:
            continue
        fig.add_trace(go.Scatter(x=[p[0] for p in pts], y=[p[1] for p in pts], mode="markers",
                                 xaxis=xa, yaxis=ya, marker=mstyle, cliponaxis=False,
                                 hoverinfo="skip"))

    # panel label box
    layout["shapes"].append(dict(type="rect", xref=xa + " domain", yref=ya + " domain",
                                 x0=0.03, x1=0.188, y0=0.756, y1=0.944,
                                 line=dict(color="black", width=1.2), fillcolor="white"))
    layout["annotations"].append(dict(xref=xa + " domain", yref=ya + " domain", x=0.109, y=0.85,
                                      text="<b>" + name + "</b>", showarrow=False,
                                      font=dict(family="Liberation Sans", size=21, color="black"),
                                      xanchor="center", yanchor="middle"))
    # axis titles
    layout["annotations"].append(dict(xref="paper", yref="paper", x=(xdom[0] + xdom[1]) / 2,
                                      y=ydom[0], yshift=-32, xanchor="center", yanchor="middle",
                                      text="層間変形角　［×1/100rad.］", showarrow=False,
                                      font=dict(family=JP_FONT, size=15, color="black")))
    layout["annotations"].append(dict(xref="paper", yref="paper", x=xdom[0], xshift=-48,
                                      y=(ydom[0] + ydom[1]) / 2, xanchor="center", yanchor="middle",
                                      textangle=-90, text="層せん断力　［kN］", showarrow=False,
                                      font=dict(family=JP_FONT, size=15, color="black")))

# ---------------- legend (overlay axis in window-pixel units) ----------------
layout["xaxis7"] = dict(domain=[0, 1], range=[OFF, W], visible=False, fixedrange=True,
                        anchor="y7", automargin=False)
layout["yaxis7"] = dict(domain=[0, 1], range=[H, OFF], visible=False, fixedrange=True,
                        anchor="x7", automargin=False)
layout["shapes"].append(dict(type="rect", xref="paper", yref="paper",
                             x0=px_x(45), x1=px_x(1198), y0=-0.1, y1=px_y(485),
                             line=dict(color="#222222", width=1.2), fillcolor="rgba(0,0,0,0)"))
R1, R2 = 498, 520
fig.add_trace(go.Scatter(x=[70, 120], y=[R1, R1], mode="lines", xaxis="x7", yaxis="y7",
                         line=dict(color=RED, width=1), hoverinfo="skip"))
fig.add_trace(go.Scatter(x=[70, 120], y=[R2, R2], mode="lines", xaxis="x7", yaxis="y7",
                         line=dict(color=GREEN_LINE, width=1.5, dash="6px,2px,2px,2px"), hoverinfo="skip"))
fig.add_trace(go.Scatter(x=[243, 293], y=[R1, R1], mode="lines", xaxis="x7", yaxis="y7",
                         line=dict(color=BLUE, width=3, dash="8px,2px,2px,2px"), hoverinfo="skip"))
legend_markers = [(268, R2, 0), (537, R1, 1), (537, R2, 2), (765, R1, 3), (765, R2, 4),
                  (1027, R1, 5), (1027, R1, 6), (1028, R2, 7)]
for lx_, ly_, k in legend_markers:
    fig.add_trace(go.Scatter(x=[lx_], y=[ly_], mode="markers", xaxis="x7", yaxis="y7",
                             marker=MARKER_STYLES[k][1], cliponaxis=False, hoverinfo="skip"))
legend_pos = [(137, R1), (312, R1), (577, R1), (805, R1), (1070, R1),
              (137, R2), (333, R2), (577, R2), (805, R2), (1070, R2)]
for txt, (px, py) in zip(LEGEND_TEXT, legend_pos):
    layout["annotations"].append(dict(xref="x7", yref="y7", x=px, y=py, text=txt, showarrow=False,
                                      xanchor="left", yanchor="middle",
                                      font=dict(family=JP_FONT, size=16, color="black")))

fig.update_layout(**layout)
fig.write_html("out.html")
